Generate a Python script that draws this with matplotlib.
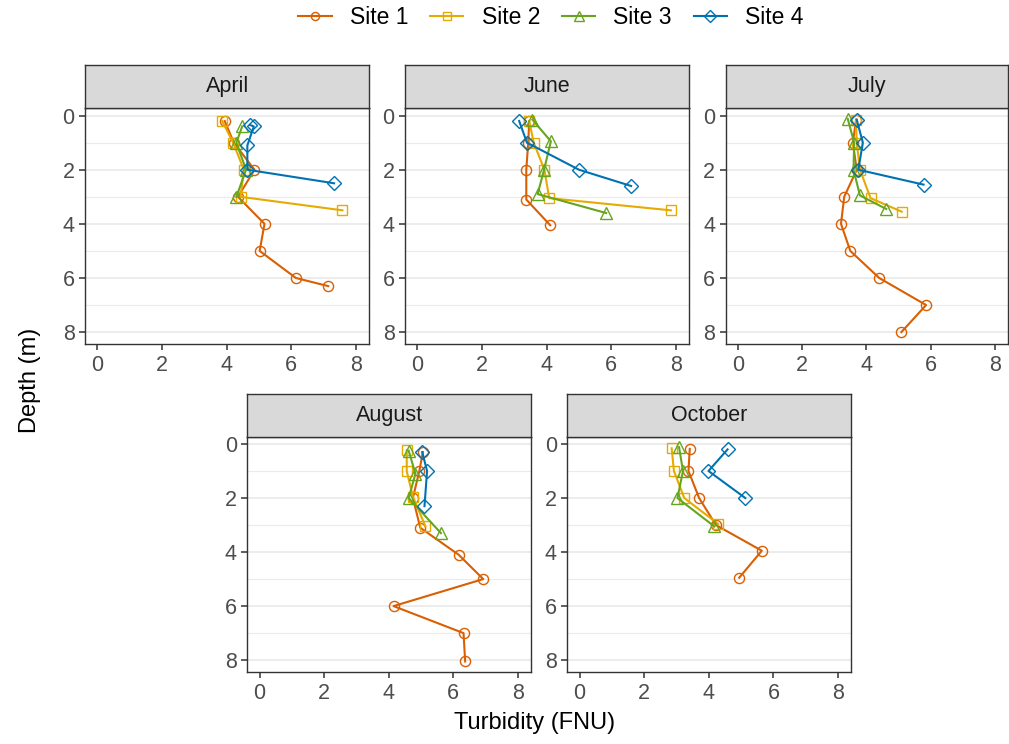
import matplotlib
matplotlib.use("Agg")
import matplotlib.pyplot as plt
from matplotlib.lines import Line2D

plt.rcParams['font.family'] = ['Liberation Sans', 'DejaVu Sans']

months = ["April", "June", "July", "August", "October"]
sites = ["Site 1", "Site 2", "Site 3", "Site 4"]

# depth (m) and turbidity (FNU) per site, per month
april_depth = [[0.2, 1.0, 2.0, 3.0, 4.0, 5.0, 6.0, 6.3],
               [0.2, 1.0, 2.0, 3.0, 3.5],
               [0.4, 1.0, 2.0, 3.0],
               [0.35, 0.4, 1.1, 2.0, 2.5]]
april_turb = [[3.94, 4.22, 4.86, 4.35, 5.17, 5.02, 6.14, 7.14],
              [3.86, 4.2, 4.53, 4.43, 7.58],
              [4.48, 4.3, 4.6, 4.3],
              [4.73, 4.84, 4.64, 4.64, 7.32]]

june_depth = [[0.2, 1.0, 2.0, 3.1, 4.05],
              [0.2, 1.0, 2.0, 3.05, 3.5],
              [0.15, 0.95, 2.0, 2.9, 3.6],
              [0.2, 1.0, 2.0, 2.6]]
june_turb = [[3.46, 3.43, 3.37, 3.37, 4.11],
             [3.46, 3.6, 3.93, 4.08, 7.84],
             [3.56, 4.13, 3.92, 3.72, 5.84],
             [3.15, 3.39, 5.0, 6.61]]

july_depth = [[0.15, 1.0, 2.0, 3.0, 4.0, 5.0, 6.0, 7.0, 8.0],
              [0.15, 1.0, 2.0, 3.05, 3.55],
              [0.12, 1.0, 2.0, 2.95, 3.45],
              [0.15, 1.0, 2.0, 2.55]]
july_turb = [[3.68, 3.58, 3.7, 3.31, 3.21, 3.5, 4.4, 5.86, 5.09],
             [3.68, 3.7, 3.8, 4.13, 5.1],
             [3.42, 3.62, 3.6, 3.8, 4.62],
             [3.7, 3.89, 3.75, 5.78]]

august_depth = [[0.3, 1.0, 2.0, 3.1, 4.1, 5.0, 6.0, 7.0, 8.05],
                [0.22, 1.0, 1.95, 3.05],
                [0.25, 1.1, 2.0, 3.3],
                [0.3, 1.0, 2.3]]
august_turb = [[5.06, 4.95, 4.75, 4.98, 6.17, 6.93, 4.15, 6.32, 6.37],
               [4.56, 4.56, 4.75, 5.14],
               [4.62, 4.83, 4.62, 5.62],
               [5.04, 5.19, 5.11]]

october_depth = [[0.18, 1.0, 2.0, 3.0, 3.95, 4.95],
                 [0.16, 1.0, 2.0, 2.96],
                 [0.12, 1.0, 2.0, 3.05],
                 [0.2, 1.0, 2.0]]
october_turb = [[3.41, 3.37, 3.7, 4.22, 5.64, 4.94],
                [2.85, 2.92, 3.24, 4.29],
                [3.08, 3.2, 3.03, 4.17],
                [4.58, 3.99, 5.13]]

colors = ["#D95F02", "#E6AB02", "#66A61E", "#0072B2"]
markers = ["o", "s", "^", "D"]
msizes = [7.3, 7.5, 8.3, 7.3]

W, H = 1009, 744
fig = plt.figure(figsize=(W / 100, H / 100), dpi=100)

# panel pixel boxes: left, right, top, bottom
boxes = [(85, 369.3, 108.3, 344.3),
         (405, 689.3, 108.3, 344.3),
         (725.7, 1008, 108.3, 344.3),
         (247.3, 531, 436.7, 672.3),
         (567.3, 851.3, 436.7, 672.3)]
strip_h = 43

all_depth = [april_depth, june_depth, july_depth, august_depth, october_depth]
all_turb = [april_turb, june_turb, july_turb, august_turb, october_turb]

border = "#333333"
for m, (l, r, t, b) in enumerate(boxes):
    ax = fig.add_axes([l / W, 1 - b / H, (r - l) / W, (b - t) / H])
    for s in range(4):
        ax.plot(all_turb[m][s], all_depth[m][s], color=colors[s], lw=1.5,
                marker=markers[s], ms=msizes[s], mfc="none", mec=colors[s],
                mew=1.0, zorder=3 + s)
    ax.set_xlim(-0.38, 8.41)
    ax.set_ylim(8.45, -0.27)
    ax.set_xticks([0, 2, 4, 6, 8])
    ax.set_yticks([0, 2, 4, 6, 8])
    ax.set_yticks([1, 3, 5, 7], minor=True)
    ax.grid(True, which="major", axis="y", color="#EBEBEB", lw=1.3, zorder=0)
    ax.grid(True, which="minor", axis="y", color="#EBEBEB", lw=0.8, zorder=0)
    ax.set_axisbelow(True)
    ax.tick_params(axis="both", which="major", labelsize=15.5, labelcolor="#4D4D4D",
                   color=border, length=4.5, width=1.1, pad=3)
    ax.tick_params(axis="y", which="minor", length=0)
    for sp in ax.spines.values():
        sp.set_color(border)
        sp.set_linewidth(1.0)
    # strip
    sax = fig.add_axes([l / W, 1 - t / H, (r - l) / W, strip_h / H])
    sax.set_facecolor("#D9D9D9")
    sax.set_xticks([])
    sax.set_yticks([])
    for sp in sax.spines.values():
        sp.set_color(border)
        sp.set_linewidth(1.0)
    sax.text(0.5, 0.5, months[m], ha="center", va="center", fontsize=15.5,
             color="#1A1A1A", transform=sax.transAxes)

fig.text(30 / W, 1 - 380 / H, "Depth (m)", rotation=90, ha="center", va="center",
         fontsize=17, color="black")
fig.text(535 / W, 1 - 723 / H, "Turbidity (FNU)", ha="center", va="center",
         fontsize=17, color="black")

handles = [Line2D([0], [0], color=colors[s], lw=1.5, marker=markers[s],
                  ms=msizes[s] * 0.8, mfc="none", mec=colors[s], mew=1.0)
           for s in range(4)]
fig.legend(handles, sites, loc="center", bbox_to_anchor=(551 / W, 1 - 18 / H),
           ncol=4, frameon=False, fontsize=16.5, handlelength=1.45,
           handletextpad=0.8, columnspacing=0.95)

fig.savefig("out.png", dpi=100)
